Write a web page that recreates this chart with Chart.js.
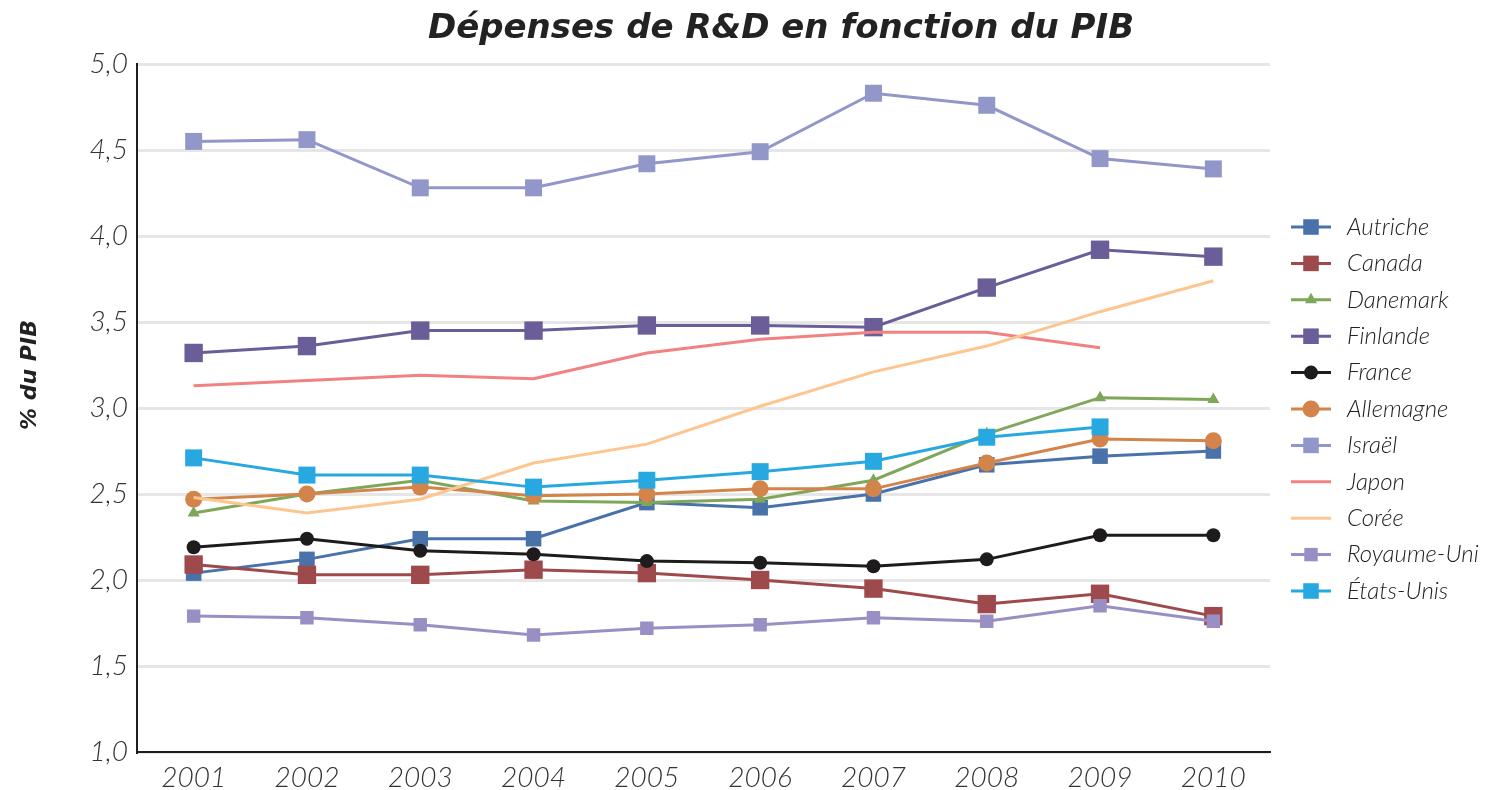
<!DOCTYPE html>
<html>
<head>
<meta charset="utf-8">
<script src="https://cdn.jsdelivr.net/npm/chart.js@4"></script>
<style>
  html, body { margin: 0; padding: 0; background: #fff; }
  #wrap { width: 1493px; height: 790px; }
</style>
</head>
<body>
<div id="wrap"><canvas id="chart"></canvas></div>
<script>
// Values
const years = ['2001', '2002', '2003', '2004', '2005', '2006', '2007', '2008', '2009', '2010'];
const yTicks = [1.0, 1.5, 2.0, 2.5, 3.0, 3.5, 4.0, 4.5, 5.0];

const autriche   = [2.04, 2.12, 2.24, 2.24, 2.45, 2.42, 2.50, 2.67, 2.72, 2.75];
const canada     = [2.09, 2.03, 2.03, 2.06, 2.04, 2.00, 1.95, 1.86, 1.92, 1.79];
const danemark   = [2.39, 2.50, 2.58, 2.46, 2.45, 2.47, 2.58, 2.85, 3.06, 3.05];
const finlande   = [3.32, 3.36, 3.45, 3.45, 3.48, 3.48, 3.47, 3.70, 3.92, 3.88];
const france     = [2.19, 2.24, 2.17, 2.15, 2.11, 2.10, 2.08, 2.12, 2.26, 2.26];
const allemagne  = [2.47, 2.50, 2.54, 2.49, 2.50, 2.53, 2.53, 2.68, 2.82, 2.81];
const israel     = [4.55, 4.56, 4.28, 4.28, 4.42, 4.49, 4.83, 4.76, 4.45, 4.39];
const japon      = [3.13, 3.16, 3.19, 3.17, 3.32, 3.40, 3.44, 3.44, 3.35, null];
const coree      = [2.48, 2.39, 2.47, 2.68, 2.79, 3.01, 3.21, 3.36, 3.56, 3.74];
const royaumeUni = [1.79, 1.78, 1.74, 1.68, 1.72, 1.74, 1.78, 1.76, 1.85, 1.76];
const etatsUnis  = [2.71, 2.61, 2.61, 2.54, 2.58, 2.63, 2.69, 2.83, 2.89, null];

const FONT = "Lato, 'Open Sans', sans-serif";
const BOLD_FONT = "'DejaVu Sans', sans-serif";

// Build one dataset
const series = (label, data, color, pointStyle, radius) => ({
    label: label,
    data: data,
    borderColor: color,
    backgroundColor: color,
    borderWidth: 3,
    pointStyle: pointStyle || 'circle',
    pointRadius: radius || 0,
    pointHoverRadius: radius || 0,
    pointBorderWidth: 0,
    tension: 0,
    spanGaps: false
});

const datasets = [
    series('Autriche', autriche, '#4a72aa', 'rect', 11),
    series('Canada', canada, '#9e4a4c', 'rect', 13),
    series('Danemark', danemark, '#7fa75a', 'triangle', 7),
    series('Finlande', finlande, '#6a5d98', 'rect', 13),
    series('France', france, '#1e1b1c', 'circle', 7),
    series('Allemagne', allemagne, '#d3844a', 'circle', 8.5),
    series('Israël', israel, '#9297ca', 'rect', 12),
    series('Japon', japon, '#f28282', null, 0),
    series('Corée', coree, '#fdc690', null, 0),
    series('Royaume-Uni', royaumeUni, '#9a8fc4', 'rect', 9.5),
    series('États-Unis', etatsUnis, '#27a8e0', 'rect', 12)
];
// later series drawn on top, like the original
datasets.forEach((d, i) => { d.order = -i; });

// Chart title and y axis title
const titlePlugin = {
    id: 'titleText',
    afterDraw(chart) {
        const ctx = chart.ctx;
        ctx.save();
        ctx.fillStyle = '#222';
        ctx.textAlign = 'center';
        ctx.textBaseline = 'middle';
        ctx.font = "italic bold 34px " + BOLD_FONT;
        ctx.fillText('Dépenses de R&D en fonction du PIB', 781, 29);
        ctx.translate(30, 375);
        ctx.rotate(-Math.PI / 2);
        ctx.font = "italic bold 22px " + BOLD_FONT;
        ctx.fillText('% du PIB', 0, 0);
        ctx.restore();
    }
};

// Legend on the right: line sample with marker, then label
const legendPlugin = {
    id: 'sideLegend',
    afterDraw(chart) {
        const ctx = chart.ctx;
        const top = 227, step = 36.4, x0 = 1291, x1 = 1331;
        ctx.save();
        chart.data.datasets.forEach((ds, i) => {
            const y = top + i * step;
            ctx.strokeStyle = ds.borderColor;
            ctx.lineWidth = 3;
            ctx.beginPath();
            ctx.moveTo(x0, y);
            ctx.lineTo(x1, y);
            ctx.stroke();
            if (ds.pointRadius > 0) {
                ctx.fillStyle = ds.backgroundColor;
                Chart.helpers.drawPoint(ctx, {
                    pointStyle: ds.pointStyle,
                    rotation: 0,
                    radius: Math.min(ds.pointRadius, 11),
                    borderWidth: 0
                }, (x0 + x1) / 2, y);
            }
            ctx.fillStyle = '#222';
            ctx.font = "italic 300 24px " + FONT;
            ctx.textAlign = 'left';
            ctx.textBaseline = 'middle';
            ctx.fillText(ds.label, 1347, y);
        });
        ctx.restore();
    }
};

new Chart(document.getElementById('chart'), {
    type: 'line',
    data: { labels: years, datasets: datasets },
    options: {
        responsive: true,
        maintainAspectRatio: false,
        animation: false,
        layout: { padding: { top: 64, right: 223, bottom: 0, left: 0 } },
        plugins: {
            legend: { display: false },
            title: { display: false },
            tooltip: { enabled: false }
        },
        scales: {
            x: {
                offset: true,
                grid: { display: false, drawTicks: false },
                border: { display: true, color: '#1e1e1e', width: 2 },
                ticks: {
                    color: '#333',
                    padding: 9,
                    font: { family: FONT, size: 28, style: 'italic', weight: 300 }
                },
                afterFit(scale) { scale.height = 38; }
            },
            y: {
                min: 1,
                max: 5,
                afterBuildTicks(scale) { scale.ticks = yTicks.map(v => ({ value: v })); },
                grid: { color: '#e6e6e6', lineWidth: 3, drawTicks: false },
                border: { display: true, color: '#1e1e1e', width: 2 },
                ticks: {
                    color: '#333',
                    padding: 9,
                    font: { family: FONT, size: 28, style: 'italic', weight: 300 },
                    callback: v => v.toFixed(1).replace('.', ',')
                },
                afterFit(scale) { scale.width = 137; }
            }
        }
    },
    plugins: [titlePlugin, legendPlugin]
});
</script>
</body>
</html>
